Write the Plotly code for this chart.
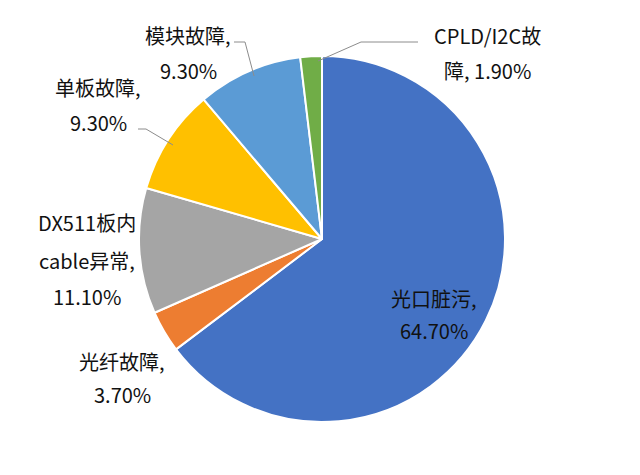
import plotly.graph_objects as go

# Data
labels = ["光口脏污", "光纤故障", "DX511板内cable异常", "单板故障", "模块故障", "CPLD/I2C故障"]
values = [64.7, 3.7, 11.1, 9.3, 9.3, 1.9]
colors = ["#4472C4", "#ED7D31", "#A5A5A5", "#FFC000", "#5B9BD5", "#70AD47"]

W, H = 640, 475
FONT = "Noto Sans CJK SC"


def px(x, y):
    # pixel position -> paper coordinates
    return x / W, 1 - y / H


fig = go.Figure()
fig.add_trace(go.Pie(
    labels=labels,
    values=values,
    sort=False,
    direction="clockwise",
    rotation=0,
    marker=dict(colors=colors, line=dict(color="white", width=2)),
    textinfo="none",
    hoverinfo="label+percent",
    showlegend=False,
    domain=dict(x=[(314 - 183) / W, (314 + 183) / W], y=[(244 - 183) / H, (244 + 183) / H]),
))

# label text lines (one annotation per line to match the wide line spacing)
label_lines = [
    (["光口脏污,", "64.70%"], 426, [290, 322]),
    (["光纤故障,", "3.70%"], 114, [353, 386]),
    (["DX511板内", "cable异常,", "11.10%"], 79, [214, 252, 288]),
    (["单板故障,", "9.30%"], 90, [80, 115]),
    (["模块故障,", "9.30%"], 180, [27, 62]),
    (["CPLD/I2C故", "障, 1.90%"], 479, [27, 62]),
]
for lines, cx, ys in label_lines:
    for t, cy in zip(lines, ys):
        x, y = px(cx, cy)
        fig.add_annotation(x=x, y=y, xref="paper", yref="paper", text=t,
                           showarrow=False, xanchor="center", yanchor="middle",
                           font=dict(family=FONT, size=20, color="#111111"))

# leader lines
leaders = [
    [(226, 34), (237, 34), (246, 68)],
    [(410, 34), (353, 34), (310, 53)],
    [(130, 121), (138, 121), (165, 137)],
]
for pts in leaders:
    for (x0, y0), (x1, y1) in zip(pts[:-1], pts[1:]):
        a0, b0 = px(x0, y0)
        a1, b1 = px(x1, y1)
        fig.add_shape(type="line", xref="paper", yref="paper", x0=a0, y0=b0, x1=a1, y1=b1,
                      line=dict(color="#8c8c8c", width=1))

fig.update_layout(
    width=W, height=H,
    margin=dict(l=0, r=0, t=0, b=0),
    paper_bgcolor="white",
    plot_bgcolor="white",
)

fig.write_html("out.html")
